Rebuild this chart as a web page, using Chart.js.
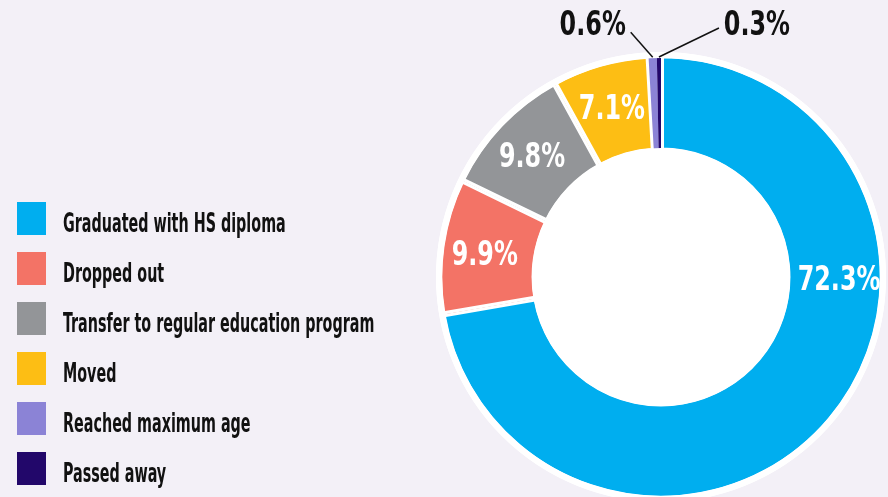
<!DOCTYPE html>
<html>
<head>
<meta charset="utf-8">
<script src="https://cdn.jsdelivr.net/npm/chart.js@4.4.0/dist/chart.umd.min.js"></script>
<style>
  html, body { margin: 0; padding: 0; background: #f3f0f7; overflow: hidden; }
  #wrap { width: 1322px; height: 533px; position: relative; }
</style>
</head>
<body>
<div id="wrap"><canvas id="myChart"></canvas></div>
<script>
const categorias = ['Graduated with HS diploma', 'Dropped out', 'Transfer to regular education program', 'Moved', 'Reached maximum age', 'Passed away']
const porcentajes = [72.3, 9.9, 9.8, 7.1, 0.6, 0.3]
const colores = ['#00aeef', '#f37366', '#939598', '#fdbe14', '#8b83d6', '#22076a']

const fuente = "'DejaVu Sans Condensed', 'DejaVu Sans', sans-serif"
const sx = 0.59            // la fuente original es muy condensada
const escalaEtiqueta = 0.78
const tamLeyenda = 27
const ctx = document.getElementById('myChart')

// cuadrito de la leyenda (un poco mas alto que el centro del texto)
function cuadro(color) {
  const cv = document.createElement('canvas')
  cv.width = Math.round(29 / sx)
  cv.height = 46
  const c = cv.getContext('2d')
  c.fillStyle = color
  c.fillRect(0, 0, cv.width, 33)
  return cv
}
const cuadros = colores.map(cuadro)

function textoCondensado(c, texto, x, y, esc) {
  c.save()
  c.translate(x, y)
  c.scale(esc, 1)
  c.fillText(texto, 0, 0)
  c.restore()
}

// leyenda condensada, fondo blanco del anillo, bordes y etiquetas
const anillo = {
  id: 'anillo',
  beforeDraw(chart) {
    chart.ctx.save()
    chart.ctx.scale(sx, 1)
    chart.ctx.translate(tamLeyenda / 2 - 23, 0)
  },
  beforeDatasetsDraw(chart) {
    const c = chart.ctx
    c.restore()
    const arc = chart.getDatasetMeta(0).data[0]
    c.save()
    c.fillStyle = '#fff'
    c.beginPath()
    c.arc(arc.x, arc.y, arc.outerRadius + 3, 0, Math.PI * 2)
    c.fill()
    c.restore()
  },
  afterDatasetsDraw(chart, args, opts) {
    const meta = chart.getDatasetMeta(0)
    const c = chart.ctx
    const p = meta.data[0]
    c.save()
    c.strokeStyle = '#fff'
    c.lineWidth = 6
    c.beginPath(); c.arc(p.x, p.y, p.outerRadius, 0, Math.PI * 2); c.stroke()
    c.beginPath(); c.arc(p.x, p.y, p.innerRadius, 0, Math.PI * 2); c.stroke()

    c.font = 'bold 34px ' + fuente
    c.textAlign = 'center'
    c.textBaseline = 'middle'
    meta.data.forEach((arc, i) => {
      const texto = porcentajes[i].toFixed(1) + '%'
      let ang = (arc.startAngle + arc.endAngle) / 2
      if (arc.endAngle - arc.startAngle > Math.PI) ang = 0
      const salida = opts.salidas[i]
      if (!salida) {
        const r = (arc.innerRadius + arc.outerRadius) / 2 + 4
        c.fillStyle = '#fff'
        textoCondensado(c, texto, arc.x + Math.cos(ang) * r, arc.y + Math.sin(ang) * r + 4, escalaEtiqueta)
      } else {
        // etiqueta fuera con linea guia
        const ax = arc.x + Math.cos(ang) * (arc.outerRadius - 2)
        const ay = arc.y + Math.sin(ang) * (arc.outerRadius - 2)
        c.strokeStyle = '#111'
        c.lineWidth = 1.5
        c.beginPath()
        c.moveTo(ax, ay)
        c.lineTo(ax + salida.linea[0], ay + salida.linea[1])
        c.stroke()
        c.fillStyle = '#111'
        textoCondensado(c, texto, ax + salida.texto[0], ay + salida.texto[1], escalaEtiqueta)
      }
    })
    c.restore()
  }
}

new Chart(ctx, {
  type: 'doughnut',
  data: {
    labels: categorias,
    datasets: [{
      data: porcentajes,
      backgroundColor: colores,
      borderColor: '#fff',
      borderWidth: [3, 3, 3, 3, 0, 0],
      borderAlign: 'inner'
    }]
  },
  options: {
    responsive: true,
    maintainAspectRatio: false,
    animation: false,
    radius: 222,
    cutout: '56.8%',
    layout: { padding: { left: 0, right: 0, top: 21.25, bottom: 0.25 } },
    plugins: {
      tooltip: { enabled: false },
      anillo: {
        salidas: [null, null, null, null,
          { linea: [-22, -25], texto: [-60, -31] },
          { linea: [60, -29], texto: [98, -31] }]
      },
      legend: {
        position: 'chartArea',
        align: 'end',
        labels: {
          usePointStyle: true,
          pointStyleWidth: 2 * ((63 - 31.5) / sx - tamLeyenda / 2),
          padding: 23,
          color: '#111',
          font: { family: fuente, size: tamLeyenda, weight: 'bold' },
          generateLabels(chart) {
            const items = Chart.overrides.doughnut.plugins.legend.labels.generateLabels(chart)
            return items.map((it, i) => Object.assign(it, { lineWidth: 0, pointStyle: cuadros[i] }))
          }
        }
      }
    }
  },
  plugins: [anillo]
})
</script>
</body>
</html>
